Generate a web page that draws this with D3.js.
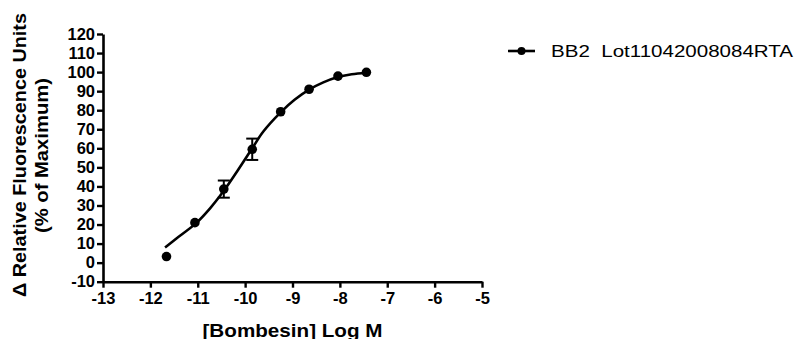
<!DOCTYPE html>
<html>
<head>
<meta charset="UTF-8">
<style>
  * { margin: 0; padding: 0; }
  body { background: #fff; width: 795px; height: 339px; overflow: hidden; }
  svg { display: block; font-family: 'Liberation Sans', Arial, sans-serif; }
</style>
</head>
<body>
<svg id="chart" width="795" height="339"></svg>
<script src="https://cdnjs.cloudflare.com/ajax/libs/d3/7.8.5/d3.min.js"></script>
<script>
// measured points (log M, % of max) and SEM
const logDose = [-11.66, -11.06, -10.45, -9.85, -9.25, -8.65, -8.04, -7.44];
const response = [3.2, 21.0, 38.6, 59.5, 79.2, 91.0, 97.9, 99.9];
const sem = [0, 0, 4.5, 5.6, 0, 0, 0, 0];

// fitted curve
const curveX = [-11.69, -11.45, -11.04, -10.74, -10.45, -10.15, -9.85, -9.62, -9.25, -8.95, -8.65, -8.35, -8.06, -7.75, -7.44];
const curveY = [8.0, 12.7, 20.6, 28.5, 37.7, 48.6, 60.0, 68.7, 78.9, 85.6, 90.8, 94.6, 97.3, 98.9, 99.7];

const xTicks = [-13, -12, -11, -10, -9, -8, -7, -6, -5];
const yTicks = [-10, 0, 10, 20, 30, 40, 50, 60, 70, 80, 90, 100, 110, 120];

const seriesName = 'BB2  Lot11042008084RTA';
const xTitle = '[Bombesin] Log M';
const yTitle1 = '\u0394 Relative Fluorescence Units';
const yTitle2 = '(% of Maximum)';

const svg = d3.select('#chart');

const x = d3.scaleLinear().domain([-13, -5]).range([103, 482]);
const y = d3.scaleLinear().domain([-10, 120]).range([281.7, 34]);

const fmt = d => String(d); // plain hyphen minus like the original

// axes
const yAxis = svg.append('g')
  .attr('transform', 'translate(' + x(-13) + ',0)')
  .call(d3.axisLeft(y).tickValues(yTicks).tickFormat(fmt).tickSize(6).tickSizeOuter(0).tickPadding(2));
const xAxis = svg.append('g')
  .attr('transform', 'translate(0,' + y(-10) + ')')
  .call(d3.axisBottom(x).tickValues(xTicks).tickFormat(fmt).tickSize(6).tickSizeOuter(0).tickPadding(5));

[xAxis, yAxis].forEach(a => {
  a.select('.domain').attr('stroke', '#000').attr('stroke-width', 2.6);
  a.selectAll('.tick line').attr('stroke', '#000').attr('stroke-width', 2.4);
  a.selectAll('.tick text')
    .attr('fill', '#000')
    .attr('font-size', 16.5)
    .attr('font-weight', 'bold')
    .attr('font-family', "'Liberation Sans', Arial, sans-serif");
});
xAxis.selectAll('.tick text').attr('dy', '0.71em');

// axis titles
svg.append('text')
  .attr('x', (x(-13) + x(-5)) / 2)
  .attr('y', 336.5)
  .attr('text-anchor', 'middle')
  .attr('font-size', 19)
  .attr('font-weight', 'bold')
  .attr('textLength', 180)
  .attr('lengthAdjust', 'spacingAndGlyphs')
  .text(xTitle);

svg.append('text')
  .attr('transform', 'translate(26,155) rotate(-90)')
  .attr('text-anchor', 'middle')
  .attr('font-size', 19)
  .attr('font-weight', 'bold')
  .attr('textLength', 284)
  .attr('lengthAdjust', 'spacingAndGlyphs')
  .text(yTitle1);

svg.append('text')
  .attr('transform', 'translate(48,155.5) rotate(-90)')
  .attr('text-anchor', 'middle')
  .attr('font-size', 19)
  .attr('font-weight', 'bold')
  .attr('textLength', 155)
  .attr('lengthAdjust', 'spacingAndGlyphs')
  .text(yTitle2);

// fitted curve
const line = d3.line()
  .x(d => x(d[0]))
  .y(d => y(d[1]))
  .curve(d3.curveCatmullRom);
svg.append('path')
  .datum(d3.zip(curveX, curveY))
  .attr('d', line)
  .attr('fill', 'none')
  .attr('stroke', '#000')
  .attr('stroke-width', 2.6);

// error bars
const pts = logDose.map((d, i) => ({ x: d, y: response[i], e: sem[i] }));
const eb = svg.append('g').attr('stroke', '#000').attr('stroke-width', 2);
pts.filter(p => p.e > 0).forEach(p => {
  eb.append('line').attr('x1', x(p.x)).attr('x2', x(p.x)).attr('y1', y(p.y + p.e)).attr('y2', y(p.y - p.e));
  [p.y + p.e, p.y - p.e].forEach(v => {
    eb.append('line').attr('x1', x(p.x) - 6).attr('x2', x(p.x) + 6).attr('y1', y(v)).attr('y2', y(v));
  });
});

// points
svg.append('g')
  .selectAll('circle')
  .data(pts)
  .join('circle')
  .attr('cx', d => x(d.x))
  .attr('cy', d => y(d.y))
  .attr('r', 4.8)
  .attr('fill', '#000');

// legend
const lg = svg.append('g');
lg.append('line').attr('x1', 508).attr('x2', 535).attr('y1', 51).attr('y2', 51)
  .attr('stroke', '#000').attr('stroke-width', 2.6);
lg.append('circle').attr('cx', 521.5).attr('cy', 51).attr('r', 4).attr('fill', '#000');
lg.append('text')
  .attr('x', 551)
  .attr('y', 57)
  .attr('font-size', 17)
  .attr('textLength', 242)
  .attr('lengthAdjust', 'spacingAndGlyphs')
  .style('white-space', 'pre')
  .attr('xml:space', 'preserve')
  .text(seriesName);
</script>
</body>
</html>
